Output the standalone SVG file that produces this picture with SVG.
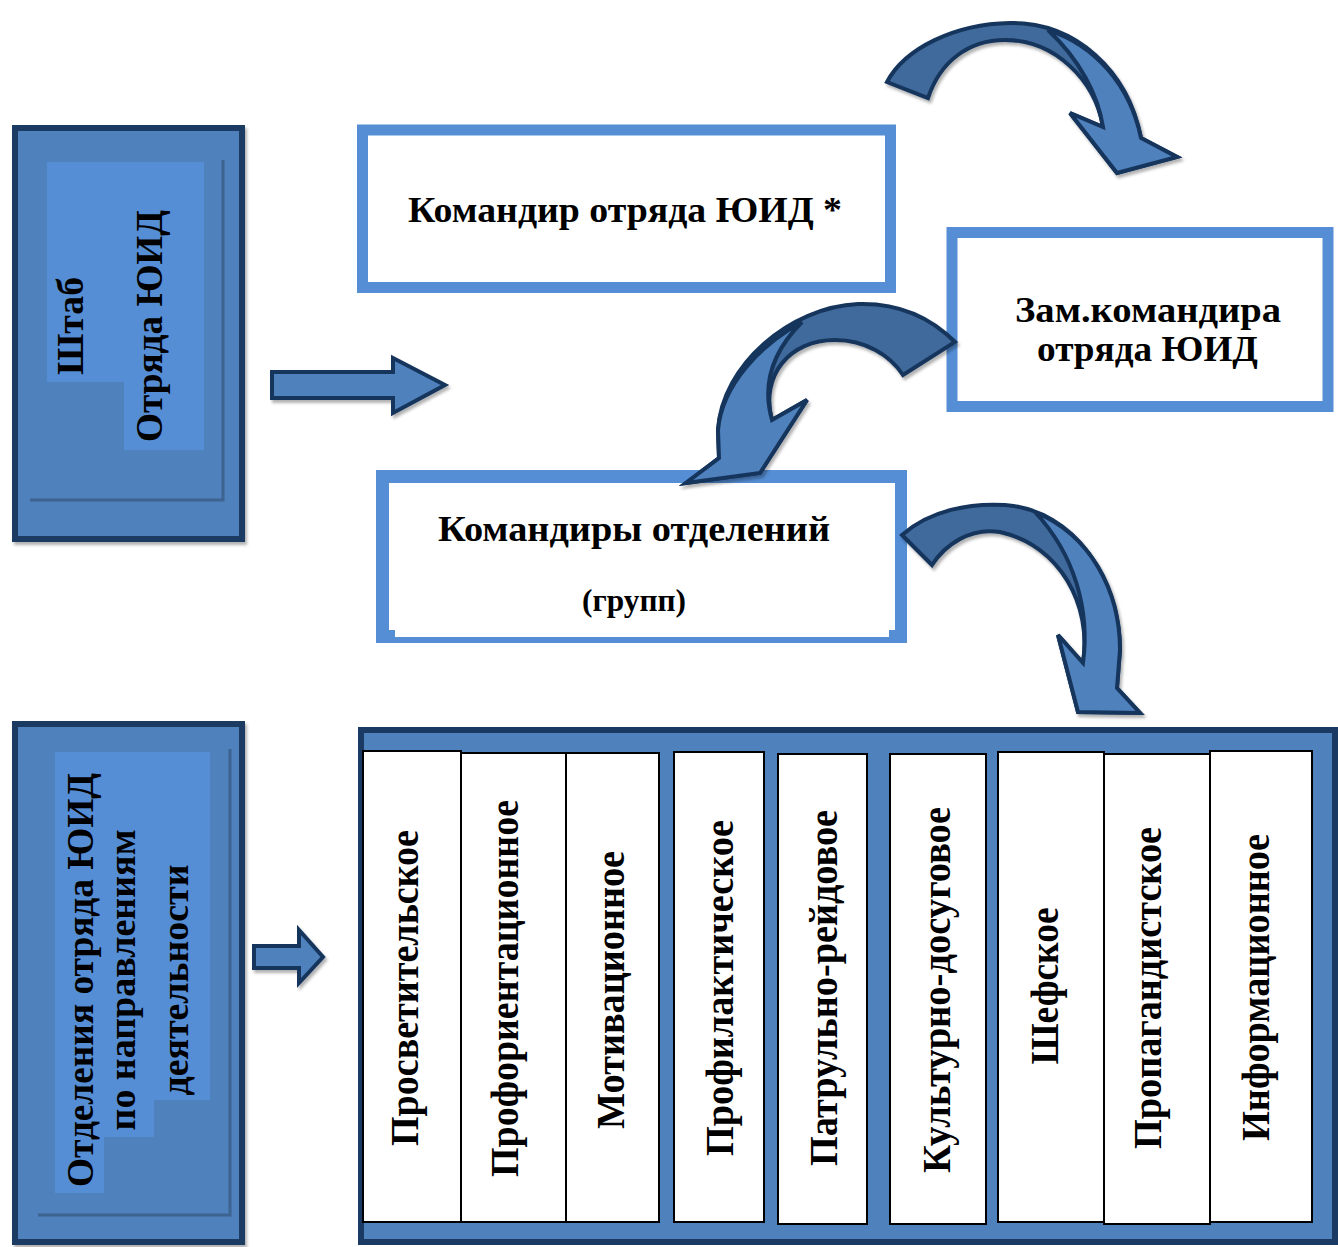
<svg xmlns="http://www.w3.org/2000/svg" width="1338" height="1247" viewBox="0 0 1338 1247">
<defs>
<filter id="sh" x="-10%" y="-10%" width="130%" height="130%">
<feDropShadow dx="2" dy="3" stdDeviation="1.5" flood-color="#000" flood-opacity="0.3"/>
</filter>
<style>
.t{font-family:"Liberation Serif","Times New Roman",serif;font-weight:bold;fill:#000;text-anchor:middle}
.dark{fill:#4f81bd;stroke:#1b3a63;stroke-width:6}
.light{fill:#558ed5}
.inl{fill:none;stroke:#3d6390;stroke-width:3}
.lbox{fill:#fff;stroke:#558ed5;stroke-width:11}
.col{fill:#fff;stroke:#000;stroke-width:2}
.arr{stroke:#17365d;stroke-width:4;stroke-linejoin:miter}
.back{fill:#3f6a9c}
.front{fill:#4f81bd}
</style>
</defs>
<rect width="1338" height="1247" fill="#fff"/>

<g id="shtab">
<rect class="dark" x="15" y="128" width="227" height="411" filter="url(#sh)"/>
<path class="light" d="M47,162 H204 V450 H124 V382 H47 Z"/>
<path class="inl" d="M223,160 V500 H30"/>
<text class="t" font-size="37" x="83" y="326" transform="rotate(-90 83 326)" textLength="98" lengthAdjust="spacingAndGlyphs">Штаб</text>
<text class="t" font-size="37" x="162" y="326" transform="rotate(-90 162 326)" textLength="232" lengthAdjust="spacingAndGlyphs">Отряда ЮИД</text>
</g>

<g id="komandir">
<rect class="lbox" x="362.5" y="130" width="528" height="157.5"/>
<text class="t" font-size="36" x="625" y="222" textLength="434" lengthAdjust="spacingAndGlyphs">Командир отряда ЮИД *</text>
</g>

<g id="zam">
<rect class="lbox" x="952" y="232.5" width="376" height="174"/>
<text class="t" font-size="36" x="1148" y="322" textLength="266" lengthAdjust="spacingAndGlyphs">Зам.командира</text>
<text class="t" font-size="36" x="1147.5" y="361" textLength="221" lengthAdjust="spacingAndGlyphs">отряда ЮИД</text>
</g>

<g id="komandiry">
<rect x="376" y="470" width="531" height="173" fill="#558ed5"/>
<rect x="389" y="483" width="506" height="147" fill="#fff"/>
<rect x="395" y="629" width="494" height="8" fill="#fff"/>
<text class="t" font-size="36" x="634" y="541" textLength="392" lengthAdjust="spacingAndGlyphs">Командиры отделений</text>
<text class="t" font-size="31" x="634" y="611" textLength="104" lengthAdjust="spacingAndGlyphs">(групп)</text>
</g>

<g id="otdeleniya">
<rect class="dark" x="15" y="724" width="227" height="518" filter="url(#sh)"/>
<path class="light" d="M55,752 H210 V1100 H154 V1137 H104 V1193 H55 Z"/>
<path class="inl" d="M230,749 V1215 H38"/>
<text class="t" font-size="38" x="93" y="980" transform="rotate(-90 93 980)" textLength="414" lengthAdjust="spacingAndGlyphs">Отделения отряда ЮИД</text>
<text class="t" font-size="38" x="135" y="980" transform="rotate(-90 135 980)" textLength="301" lengthAdjust="spacingAndGlyphs">по направлениям</text>
<text class="t" font-size="38" x="188" y="980" transform="rotate(-90 188 980)" textLength="231" lengthAdjust="spacingAndGlyphs">деятельности</text>
</g>

<g id="napravleniya">
<rect class="dark" x="361" y="730" width="974" height="512"/>
<g id="col1"><rect class="col" x="363" y="751" width="98" height="471"/>
<text class="t" font-size="39" x="418" y="988" transform="rotate(-90 418 988)" textLength="316" lengthAdjust="spacingAndGlyphs">Просветительское</text></g>
<g id="col2"><rect class="col" x="461" y="753" width="105" height="469"/>
<text class="t" font-size="39" x="518" y="988.5" transform="rotate(-90 518 988.5)" textLength="377" lengthAdjust="spacingAndGlyphs">Профориентационное</text></g>
<g id="col3"><rect class="col" x="566" y="753" width="93" height="469"/>
<text class="t" font-size="39" x="624" y="990" transform="rotate(-90 624 990)" textLength="278" lengthAdjust="spacingAndGlyphs">Мотивационное</text></g>
<g id="col4"><rect class="col" x="674" y="752" width="90" height="470"/>
<text class="t" font-size="39" x="733" y="988" transform="rotate(-90 733 988)" textLength="336" lengthAdjust="spacingAndGlyphs">Профилактическое</text></g>
<g id="col5"><rect class="col" x="778" y="754" width="89" height="470"/>
<text class="t" font-size="39" x="837" y="988" transform="rotate(-90 837 988)" textLength="356" lengthAdjust="spacingAndGlyphs">Патрульно-рейдовое</text></g>
<g id="col6"><rect class="col" x="890" y="754" width="96" height="470"/>
<text class="t" font-size="39" x="950" y="990" transform="rotate(-90 950 990)" textLength="366" lengthAdjust="spacingAndGlyphs">Культурно-досуговое</text></g>
<g id="col7"><rect class="col" x="998" y="752" width="106" height="470"/>
<text class="t" font-size="39" x="1058" y="986" transform="rotate(-90 1058 986)" textLength="157" lengthAdjust="spacingAndGlyphs">Шефское</text></g>
<g id="col8"><rect class="col" x="1104" y="754" width="106" height="470"/>
<text class="t" font-size="39" x="1161" y="988" transform="rotate(-90 1161 988)" textLength="322" lengthAdjust="spacingAndGlyphs">Пропагандистское</text></g>
<g id="col9"><rect class="col" x="1210" y="751" width="102" height="471"/>
<text class="t" font-size="39" x="1269" y="987.5" transform="rotate(-90 1269 987.5)" textLength="307" lengthAdjust="spacingAndGlyphs">Информационное</text></g>
</g>

<g id="connectors">
<path class="arr front" filter="url(#sh)" d="M272,372 H393 V358 L445,385 L393,413 V398 H272 Z"/>
<path class="arr front" filter="url(#sh)" stroke-width="5" d="M254,946 H299 V930 L323,957 L299,983 V968 H254 Z"/>
<g filter="url(#sh)">
<path class="arr back" d="M887,82 C905,48 955,24 1010,23 C1075,22 1128,70 1141,138 L1177,157 L1117,173 L1070,113 L1103,127 C1095,80 1055,40 1005,40 C968,40 940,62 928,98 Z"/>
<path class="arr front" d="M1048,30 C1095,45 1130,85 1141,138 L1177,157 L1117,173 L1070,113 L1103,127 C1098,95 1080,60 1048,30 Z"/>
</g>
<g filter="url(#sh)">
<path class="arr back" d="M955,342 C925,312 890,303 858,304 C790,307 722,365 718,430 L719,458 L686,483 L760,473 L807,400 L772,420 C760,375 790,340 835,340 C865,340 890,355 903,375 Z"/>
<path class="arr front" d="M802,322 C760,345 722,385 718,430 L719,458 L686,483 L760,473 L807,400 L772,420 C762,385 772,352 802,322 Z"/>
</g>
<g filter="url(#sh)">
<path class="arr back" d="M902,535 C930,510 970,503 1005,505 C1075,510 1120,580 1120,650 L1117,688 L1140,713 L1078,712 L1058,635 L1083,663 C1092,605 1060,545 1000,532 C970,527 945,545 932,565 Z"/>
<path class="arr front" d="M1035,512 C1090,535 1120,590 1120,650 L1117,688 L1140,713 L1078,712 L1058,635 L1083,663 C1090,610 1075,555 1035,512 Z"/>
</g>
</g>
</svg>
